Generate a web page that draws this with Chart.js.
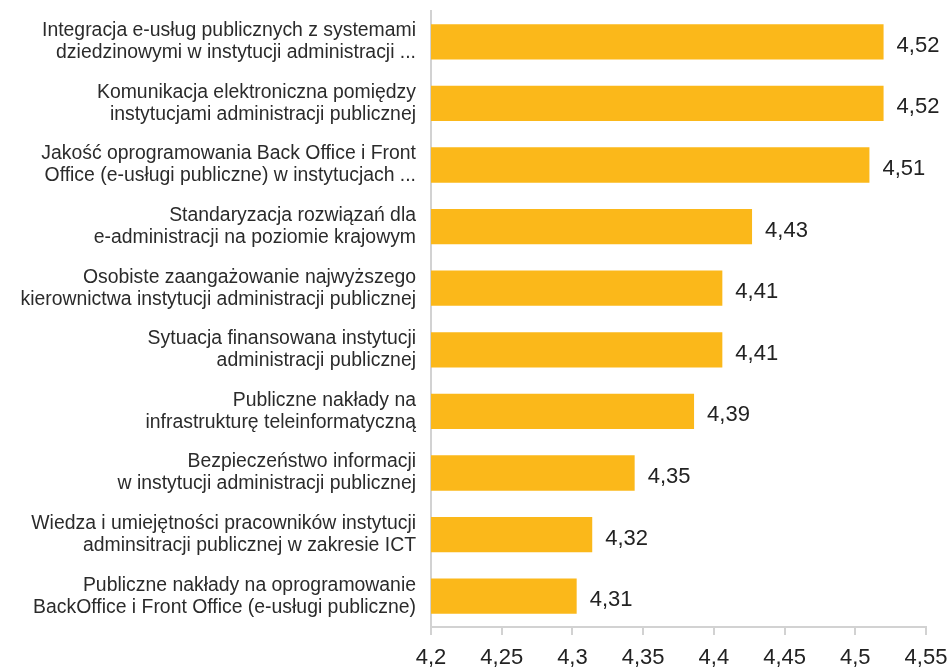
<!DOCTYPE html>
<html>
<head>
<meta charset="utf-8">
<script src="https://cdn.jsdelivr.net/npm/chart.js@4"></script>
<style>
  html, body { margin: 0; padding: 0; background: #fff; }
  #wrap { width: 952px; height: 669px; }
</style>
</head>
<body>
<div id="wrap"><canvas id="myChart" width="952" height="669"></canvas></div>
<script>
var categories = [
  ["Integracja e-usług publicznych z systemami", "dziedzinowymi w instytucji administracji ..."],
  ["Komunikacja elektroniczna pomiędzy", "instytucjami administracji publicznej"],
  ["Jakość oprogramowania Back Office i Front", "Office (e-usługi publiczne) w instytucjach ..."],
  ["Standaryzacja rozwiązań dla", "e-administracji na poziomie krajowym"],
  ["Osobiste zaangażowanie najwyższego", "kierownictwa instytucji administracji publicznej"],
  ["Sytuacja finansowana instytucji", "administracji publicznej"],
  ["Publiczne nakłady na", "infrastrukturę teleinformatyczną"],
  ["Bezpieczeństwo informacji", "w instytucji administracji publicznej"],
  ["Wiedza i umiejętności pracowników instytucji", "adminsitracji publicznej w zakresie ICT"],
  ["Publiczne nakłady na oprogramowanie", "BackOffice i Front Office (e-usługi publiczne)"]
]

// bar lengths
var barValues = [4.52, 4.52, 4.51, 4.427, 4.406, 4.406, 4.386, 4.344, 4.314, 4.303]
// value labels printed next to the bars
var valueLabels = ["4,52", "4,52", "4,51", "4,43", "4,41", "4,41", "4,39", "4,35", "4,32", "4,31"]
var tickLabels = ["4,2", "4,25", "4,3", "4,35", "4,4", "4,45", "4,5", "4,55"]

var barColor = "#FBB81A"
var axisColor = "#d2d2d2"

// draws the value text right of each bar
var valuePlugin = {
  id: "valueText",
  afterDatasetsDraw: function(chart) {
    var ctx = chart.ctx
    var meta = chart.getDatasetMeta(0)
    ctx.save()
    ctx.font = "22px 'Liberation Sans', Arial, sans-serif"
    ctx.fillStyle = "#222"
    ctx.textAlign = "left"
    ctx.textBaseline = "middle"
    meta.data.forEach(function(bar, i) {
      ctx.fillText(valueLabels[i], bar.x + 13, bar.y + 4)
    })
    ctx.restore()
  }
}

var chart = new Chart("myChart", {
  type: "bar",
  data: {
    labels: categories,
    datasets: [{
      data: barValues,
      backgroundColor: barColor,
      barPercentage: 0.573,
      categoryPercentage: 1
    }]
  },
  options: {
    indexAxis: "y",
    responsive: false,
    animation: false,
    layout: {padding: {top: 11, right: 26, left: 0, bottom: 0}},
    plugins: {
      legend: {display: false},
      tooltip: {enabled: false}
    },
    scales: {
      x: {
        min: 4.2,
        max: 4.55,
        ticks: {
          stepSize: 0.05,
          padding: 10,
          color: "#222",
          font: {family: "'Liberation Sans', Arial, sans-serif", size: 22},
          callback: function(val, i) { return tickLabels[i] }
        },
        grid: {drawOnChartArea: false, drawTicks: true, tickLength: 8, color: axisColor, lineWidth: 2},
        border: {display: true, color: axisColor, width: 2},
        afterFit: function(scale) {
          scale.height = 42
          scale.paddingLeft = 0
          scale.paddingRight = 0
        }
      },
      y: {
        ticks: {
          padding: 15,
          color: "#2b2b2b",
          font: {family: "'Liberation Sans', Arial, sans-serif", size: 19.4, lineHeight: 1.13}
        },
        grid: {display: true, drawOnChartArea: false, drawTicks: false},
        border: {display: true, color: axisColor, width: 2},
        afterFit: function(scale) {
          scale.width = 431
          scale.paddingTop = 0
          scale.paddingBottom = 0
        }
      }
    }
  },
  plugins: [valuePlugin]
})
</script>
</body>
</html>
